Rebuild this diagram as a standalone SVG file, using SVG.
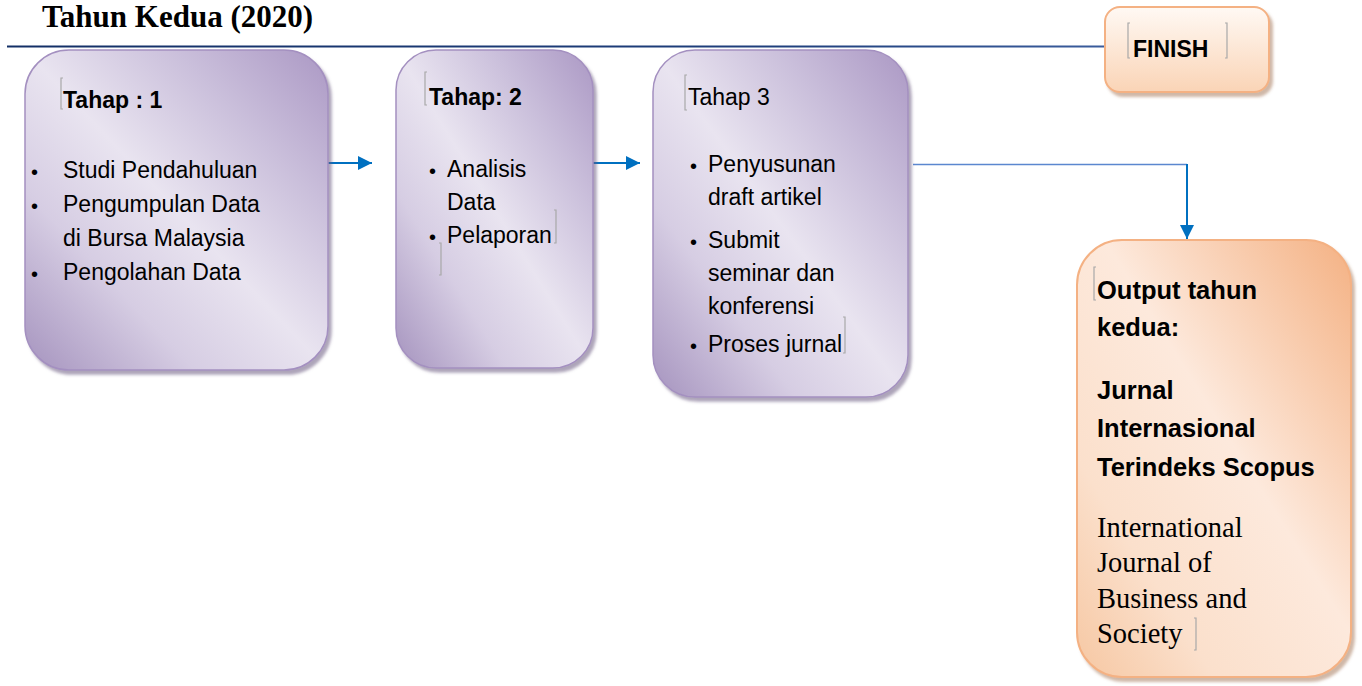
<svg xmlns="http://www.w3.org/2000/svg" width="1362" height="686" viewBox="0 0 1362 686">
<defs>
  <linearGradient id="gPurple" x1="1" y1="0" x2="0" y2="1">
    <stop offset="0" stop-color="#ab98c4"/>
    <stop offset="0.25" stop-color="#cabfdb"/>
    <stop offset="0.5" stop-color="#e9e4f0"/>
    <stop offset="0.72" stop-color="#d6cde3"/>
    <stop offset="1" stop-color="#a593be"/>
  </linearGradient>
  <linearGradient id="gOrange" x1="1" y1="0" x2="0" y2="1">
    <stop offset="0" stop-color="#f4b183"/>
    <stop offset="0.45" stop-color="#fde9dc"/>
    <stop offset="0.75" stop-color="#fbe0cc"/>
    <stop offset="1" stop-color="#f6c7a2"/>
  </linearGradient>
  <linearGradient id="gFinish" x1="0" y1="0" x2="0" y2="1">
    <stop offset="0" stop-color="#fff9f4"/>
    <stop offset="1" stop-color="#fad4b6"/>
  </linearGradient>
  <linearGradient id="gLine" gradientUnits="userSpaceOnUse" x1="7" y1="0" x2="1106" y2="0">
    <stop offset="0" stop-color="#132f66"/>
    <stop offset="0.7" stop-color="#1f3f7c"/>
    <stop offset="1" stop-color="#3a5c9c"/>
  </linearGradient>
  <filter id="shadow" x="-10%" y="-10%" width="125%" height="125%">
    <feGaussianBlur in="SourceAlpha" stdDeviation="1.5"/>
    <feOffset dx="3" dy="4" result="o"/>
    <feFlood flood-color="#6a5a80" flood-opacity="0.55"/>
    <feComposite in2="o" operator="in"/>
    <feMerge><feMergeNode/><feMergeNode in="SourceGraphic"/></feMerge>
  </filter>
  <filter id="shadowO" x="-10%" y="-10%" width="125%" height="125%">
    <feGaussianBlur in="SourceAlpha" stdDeviation="1.5"/>
    <feOffset dx="3" dy="4" result="o"/>
    <feFlood flood-color="#a07050" flood-opacity="0.5"/>
    <feComposite in2="o" operator="in"/>
    <feMerge><feMergeNode/><feMergeNode in="SourceGraphic"/></feMerge>
  </filter>
  <marker id="arrow" viewBox="0 0 10 10" refX="10" refY="5" markerWidth="7.5" markerHeight="7" orient="auto" markerUnits="strokeWidth">
    <path d="M0,0 L10,5 L0,10 z" fill="#0070c0"/>
  </marker>
</defs>
<style>
  .pbox { fill: url(#gPurple); stroke: #a490c0; stroke-width: 1.5; filter: url(#shadow); }
  .obox { fill: url(#gOrange); stroke: #f4b183; stroke-width: 2; filter: url(#shadowO); }
  .fbox { fill: url(#gFinish); stroke: #f4b183; stroke-width: 2; filter: url(#shadowO); }
  .t { font-family: "Liberation Sans", Arial, sans-serif; font-size: 23px; fill: #000; }
  .b { font-weight: bold; }
  .ob { font-family: "Liberation Sans", Arial, sans-serif; font-size: 25.5px; font-weight: bold; fill: #000; }
  .os { font-family: "Liberation Serif", "Times New Roman", serif; font-size: 28.5px; fill: #000; }
  .bul { font-family: "Liberation Sans", Arial, sans-serif; font-size: 20px; fill: #000; }
  .mark { fill: none; stroke: #a8a8a8; stroke-width: 1.2; }
  .conn { fill: none; stroke: #0070c0; stroke-width: 2; }
</style>

<g id="title">
  <text x="42" y="27" font-family="Liberation Serif, 'Times New Roman', serif" font-size="31" font-weight="bold" fill="#000">Tahun Kedua (2020)</text>
</g>

<g id="topline">
  <rect x="7" y="45.5" width="1099" height="2" fill="url(#gLine)"/>
</g>

<g id="connectors">
  <line class="conn" x1="324" y1="163" x2="372" y2="163" marker-end="url(#arrow)"/>
  <line class="conn" x1="592" y1="163" x2="640" y2="163" marker-end="url(#arrow)"/>
  <line x1="913" y1="164.5" x2="1187" y2="164.5" stroke="#5b87cf" stroke-width="1.6"/>
  <line class="conn" x1="1187" y1="164" x2="1187" y2="239" marker-end="url(#arrow)"/>
</g>

<g id="tahap1">
  <rect class="pbox" x="25" y="50" width="303" height="320" rx="44" ry="44"/>
  <path class="mark" d="M63,78 h-2 v31 h2"/>
  <text class="t b" x="63" y="108">Tahap : 1</text>
  <text class="bul" x="31" y="179">•</text>
  <text class="t" x="63" y="178">Studi Pendahuluan</text>
  <text class="bul" x="31" y="213">•</text>
  <text class="t" x="63" y="212">Pengumpulan Data</text>
  <text class="t" x="63" y="246">di Bursa Malaysia</text>
  <text class="bul" x="31" y="281">•</text>
  <text class="t" x="63" y="280">Pengolahan Data</text>
</g>

<g id="tahap2">
  <rect class="pbox" x="396" y="50" width="197" height="318" rx="40" ry="40"/>
  <path class="mark" d="M427,72 h-2 v33 h2"/>
  <text class="t b" x="429" y="105">Tahap: 2</text>
  <text class="bul" x="429" y="178">•</text>
  <text class="t" x="447" y="177">Analisis</text>
  <text class="t" x="447" y="210">Data</text>
  <text class="bul" x="429" y="244">•</text>
  <text class="t" x="447" y="243">Pelaporan</text>
  <path class="mark" d="M554,210 h2 v33 h-2"/>
  <path class="mark" d="M439,243 h2 v32 h-2"/>
</g>

<g id="tahap3">
  <rect class="pbox" x="653" y="50" width="255" height="347" rx="42" ry="42"/>
  <path class="mark" d="M687,75 h-2 v35 h2"/>
  <text class="t" x="688" y="105">Tahap 3</text>
  <text class="bul" x="690" y="173">•</text>
  <text class="t" x="708" y="172">Penyusunan</text>
  <text class="t" x="708" y="205">draft artikel</text>
  <text class="bul" x="690" y="249">•</text>
  <text class="t" x="708" y="248">Submit</text>
  <text class="t" x="708" y="281">seminar dan</text>
  <text class="t" x="708" y="314">konferensi</text>
  <text class="bul" x="690" y="353">•</text>
  <text class="t" x="708" y="352">Proses jurnal</text>
  <path class="mark" d="M843,317 h2 v36 h-2"/>
</g>

<g id="finish">
  <rect class="fbox" x="1105" y="7" width="164" height="85" rx="15" ry="15"/>
  <path class="mark" d="M1130,23 h-2 v35 h2"/>
  <text class="t b" x="1133" y="57">FINISH</text>
  <path class="mark" d="M1225,23 h2 v35 h-2"/>
</g>

<g id="output">
  <rect class="obox" x="1077" y="240" width="274" height="437" rx="45" ry="45"/>
  <path class="mark" d="M1096,267 h-2 v33 h2"/>
  <text class="ob" x="1097" y="299">Output tahun</text>
  <text class="ob" x="1097" y="336">kedua:</text>
  <text class="ob" x="1097" y="399">Jurnal</text>
  <text class="ob" x="1097" y="437">Internasional</text>
  <text class="ob" x="1097" y="476">Terindeks Scopus</text>
  <text class="os" x="1097" y="537">International</text>
  <text class="os" x="1097" y="572">Journal of</text>
  <text class="os" x="1097" y="608">Business and</text>
  <text class="os" x="1097" y="643">Society</text>
  <path class="mark" d="M1194,618 h2 v32 h-2"/>
</g>
</svg>
